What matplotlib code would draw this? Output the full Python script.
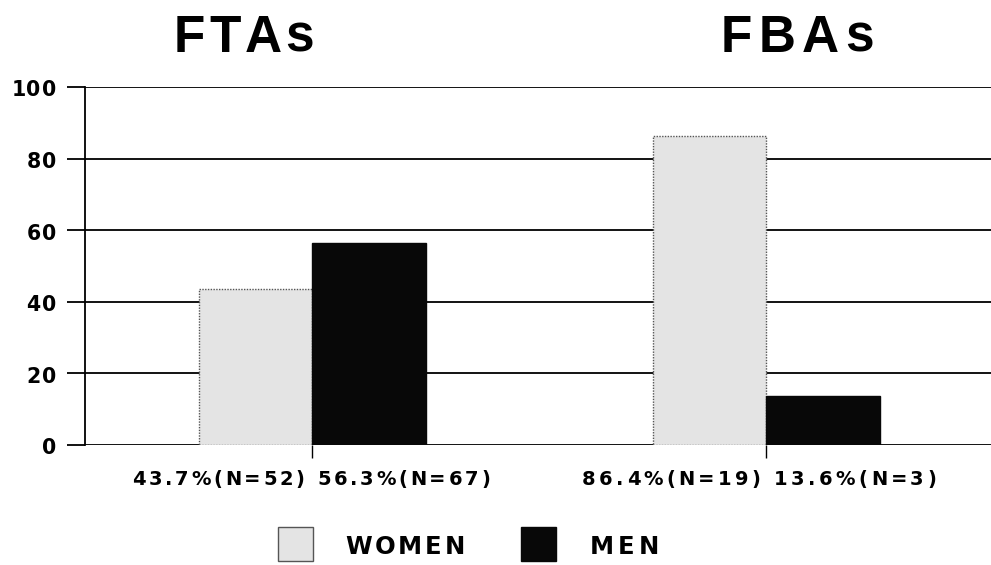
import numpy as np
import matplotlib
matplotlib.use("Agg")
import matplotlib.pyplot as plt
from matplotlib.patches import Rectangle
from matplotlib.font_manager import FontProperties, findfont, get_font

# data
groups = ["FTAs", "FBAs"]
women = [43.7, 86.4]
men = [56.3, 13.6]
group_labels = ["43.7%(N=52) 56.3%(N=67)", "86.4%(N=19) 13.6%(N=3)"]
yticks = [0, 20, 40, 60, 80, 100]
legend_names = ["WOMEN", "MEN"]

W, H = 991, 565
FONT = "DejaVu Sans"
TITLE_FONT = "Liberation Sans"
WOMEN_FC = "#e4e4e4"
MEN_FC = "#080808"

fig = plt.figure(figsize=(W / 100, H / 100), dpi=100)
ax = fig.add_axes([85 / W, 1 - 445 / H, (993 - 85) / W, (445 - 87) / H])
# overlay in pixel coordinates (y down) for free text and legend
ov = fig.add_axes([0, 0, 1, 1], zorder=5)
ov.set_xlim(0, W)
ov.set_ylim(H, 0)
ov.axis("off")
ov.patch.set_alpha(0)


def advances(s, size, family):
    ft = get_font(findfont(FontProperties(family=family, weight="bold")))
    ft.set_size(size, 100)
    out = []
    for ch in s:
        g = ft.load_char(ord(ch))
        out.append(g.linearHoriAdvance / 65536)
    return out


def tracked(x, y, s, size, track=0.0, width=None, ha="center", family=FONT):
    """Text with letter spacing on the overlay, baseline at y.
    If width is given the spacing is chosen to fill that many pixels."""
    widths = advances(s, size, family)
    if width is not None and len(s) > 1:
        track = (width - sum(widths)) / (len(s) - 1)
    total = sum(widths) + track * (len(s) - 1)
    if ha == "center":
        x0 = x - total / 2
    elif ha == "right":
        x0 = x - total
    else:
        x0 = x
    for ch, w in zip(s, widths):
        if ch != " ":
            ov.text(x0, y, ch, fontsize=size, fontweight="bold",
                    family=family, ha="left", va="baseline", color="black")
        x0 += w + track


# bars
xc = np.arange(len(groups))
bw = 0.25
ax.bar(xc - bw / 2, women, bw, color=WOMEN_FC, edgecolor="#555555",
       lw=1.0, ls=(0, (1, 1)), zorder=3)
ax.bar(xc + bw / 2, men, bw, color=MEN_FC, edgecolor=MEN_FC, lw=1.0,
       zorder=3)

ax.set_xlim(-0.5, 1.5)
ax.set_ylim(0, 100)
ax.set_yticks(yticks)
ax.set_yticklabels([])
ax.yaxis.grid(True, color="black", lw=1.3, zorder=0)
ax.tick_params(axis="y", direction="out", length=13, width=1.3,
               color="black")
ax.set_xticks(xc)
ax.set_xticklabels([])
ax.tick_params(axis="x", direction="out", length=9, width=1.0)
for s in ["top", "right", "bottom"]:
    ax.spines[s].set_visible(False)
ax.spines["left"].set_linewidth(1.3)

# y tick labels
for v in yticks:
    py = H - ax.transData.transform((0, v))[1]
    tracked(56, py + 9.5, str(v), 14.8, 1.0, ha="right")

# group titles and counts
title_x = [244, 797]
title_w = [140, 153]
for g, tx, tw in zip(groups, title_x, title_w):
    tracked(tx, 52, g, 37, width=tw, family=TITLE_FONT)
label_x = [311, 759]
label_w = [358, 354]
for lab, lx, lw in zip(group_labels, label_x, label_w):
    tracked(lx, 485, lab, 14, width=lw)

# legend
leg_w = [120, 69]
for name, fc, ec, px, tx, tw in zip(legend_names, [WOMEN_FC, MEN_FC],
                                     ["#555555", MEN_FC], [278, 521],
                                     [345, 590], leg_w):
    ov.add_patch(Rectangle((px, 527), 35, 34, facecolor=fc, edgecolor=ec,
                           lw=1.0))
    tracked(tx, 554, name, 17.5, width=tw, ha="left")

fig.savefig("out.png", dpi=100)
